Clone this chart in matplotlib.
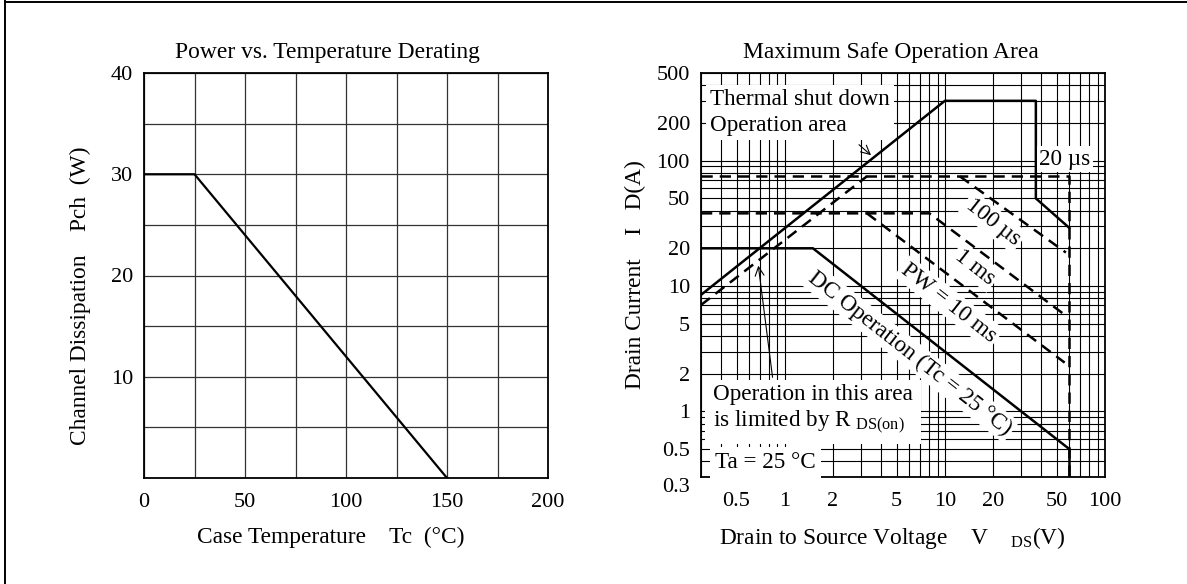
import matplotlib
matplotlib.use("Agg")

import matplotlib.pyplot as plt
from matplotlib.lines import Line2D
from matplotlib.ticker import FixedLocator, NullFormatter
from matplotlib.transforms import ScaledTranslation


plt.rcParams["font.family"] = ["Liberation Serif", "DejaVu Serif"]
plt.rcParams["mathtext.fontset"] = "custom"
plt.rcParams["mathtext.rm"] = "Liberation Serif"
plt.rcParams["mathtext.it"] = "Liberation Serif:italic"
plt.rcParams["font.size"] = 16


# Power vs. temperature derating
case_temp = [0, 25, 150]
channel_power = [30, 30, 0]

derating_xticks = [0, 50, 100, 150, 200]
derating_yticks = [0, 10, 20, 30, 40]
derating_ylabels = ["", "10", "20", "30", "40"]

# Safe operation area (V, A)
thermal_v = [0.3, 10, 37, 37, 60]
thermal_i = [8.5, 300, 300, 50, 29]

dc_v = [0.3, 1.5, 60, 60]
dc_i = [20, 20, 0.5, 0.3]

rds_v = [0.3, 3.26]
rds_i = [7.06, 75]

pw20_v = [0.3, 60, 60]
pw20_i = [75, 75, 0.3]

pw100_v = [12.4, 57]
pw100_i = [75, 18.5]

pw1ms_v = [0.3, 8.0, 57]
pw1ms_i = [38, 38, 5.8]

pw10ms_v = [3.26, 56]
pw10ms_i = [38, 2.45]

soa_xticks = [0.5, 1, 2, 5, 10, 20, 50, 100]
soa_xlabels = ["0.5", "1", "2", "5", "10", "20", "50", "100"]
soa_yticks = [0.3, 0.5, 1, 2, 5, 10, 20, 50, 100, 200, 500]
soa_ylabels = ["0.3", "0.5", "1", "2", "5", "10", "20", "50", "100", "200", "500"]


W, H = 1187, 584

LABEL_SIZE = 16.8
TITLE_SIZE = 16.9
NOTE_SIZE = 16.7

fig = plt.figure(figsize=(W / 100, H / 100), dpi=100)

# page frame (left and top edges only)
fig.add_artist(Line2D([5 / W, 5 / W], [0, 1 - 1 / H], color="black", lw=1.4))
fig.add_artist(Line2D([5 / W, 1], [1 - 1.5 / H, 1 - 1.5 / H], color="black", lw=1.4))


# ---------------- left chart ----------------

ax1 = fig.add_axes([144 / W, 1 - 478 / H, 404 / W, 405 / H])

ax1.plot(case_temp, channel_power, color="black", lw=1.6, zorder=3)

ax1.set_xlim(0, 200)
ax1.set_ylim(0, 40)

ax1.set_xticks(derating_xticks)
ax1.set_yticks(derating_yticks)
ax1.set_yticklabels(derating_ylabels)
ax1.xaxis.set_minor_locator(FixedLocator([25, 75, 125, 175]))
ax1.yaxis.set_minor_locator(FixedLocator([5, 15, 25, 35]))

ax1.grid(which="both", color="0.2", lw=0.9)
ax1.tick_params(which="both", length=0)
ax1.tick_params(axis="x", pad=11)
ax1.tick_params(axis="y", pad=8)

for spine in ax1.spines.values():
    spine.set_linewidth(1.3)

ax1.set_title(
    "Power vs. Temperature Derating",
    x=0.455, pad=11, fontsize=TITLE_SIZE
)

ax1.set_xlabel("Case Temperature    Tc  (°C)", fontsize=LABEL_SIZE)
ax1.xaxis.label.set_va("center")
ax1.xaxis.set_label_coords(0.463, -0.146)

ax1.set_ylabel("Channel Dissipation    Pch  (W)", fontsize=LABEL_SIZE)
ax1.yaxis.label.set_va("center")
ax1.yaxis.set_label_coords(-0.158, 0.449)


# ---------------- right chart ----------------

ax2 = fig.add_axes([701 / W, 1 - 477 / H, 404 / W, 404 / H])

ax2.set_xscale("log")
ax2.set_yscale("log")
ax2.set_xlim(0.3, 100)
ax2.set_ylim(0.3, 500)

solid = dict(color="black", lw=1.8, zorder=3)
dashed = dict(color="black", lw=1.8, ls=(0, (4.5, 2.8)), zorder=3)

ax2.plot(thermal_v, thermal_i, **solid)
ax2.plot(dc_v, dc_i, **solid)
ax2.plot(rds_v, rds_i, **dashed)
ax2.plot(pw20_v, pw20_i, **dashed)
ax2.plot(pw100_v, pw100_i, **dashed)
ax2.plot(pw1ms_v, pw1ms_i, **dashed)
ax2.plot(pw10ms_v, pw10ms_i, **dashed)

ax2.xaxis.set_major_locator(FixedLocator(soa_xticks))
ax2.set_xticklabels(soa_xlabels)
ax2.yaxis.set_major_locator(FixedLocator(soa_yticks))
ax2.set_yticklabels(soa_ylabels)
ax2.xaxis.set_minor_formatter(NullFormatter())
ax2.yaxis.set_minor_formatter(NullFormatter())

ax2.grid(which="both", color="black", lw=0.8)
ax2.tick_params(which="both", length=0)
ax2.tick_params(axis="x", pad=11)
ax2.tick_params(axis="y", pad=8)

# the 0.3 label sits a little below the frame in the original
low_label = ax2.get_yticklabels()[0]
low_label.set_transform(
    low_label.get_transform() + ScaledTranslation(0, -8 / 100, fig.dpi_scale_trans)
)

for spine in ax2.spines.values():
    spine.set_linewidth(1.3)

ax2.set_title(
    "Maximum Safe Operation Area",
    x=0.47, pad=11, fontsize=TITLE_SIZE
)

ax2.set_xlabel(
    "Drain to Source Voltage    V    $_{\\mathrm{DS}}$(V)",
    fontsize=LABEL_SIZE
)
ax2.xaxis.label.set_va("center")
ax2.xaxis.set_label_coords(0.473, -0.151)

ax2.set_ylabel("Drain Current    I   D(A)", fontsize=LABEL_SIZE)
ax2.yaxis.label.set_va("center")
ax2.yaxis.set_label_coords(-0.163, 0.5)


white = dict(facecolor="white", edgecolor="none", pad=2)
angle = -38.1

ax2.text(
    0.022, 0.902,
    "Thermal shut down\nOperation area",
    transform=ax2.transAxes,
    ha="left", va="center",
    fontsize=NOTE_SIZE, linespacing=1.3,
    bbox=dict(facecolor="white", edgecolor="none", pad=3),
    zorder=5
)

ax2.annotate(
    "",
    xy=(0.426, 0.792), xycoords="axes fraction",
    xytext=(0.386, 0.827), textcoords="axes fraction",
    arrowprops=dict(arrowstyle="->", lw=0.8, color="black"),
    zorder=6
)

ax2.text(
    0.901, 0.787, "20 µs",
    transform=ax2.transAxes,
    ha="center", va="center",
    fontsize=NOTE_SIZE,
    bbox=white, zorder=5
)

ax2.text(
    0.723, 0.631, "100 µs",
    transform=ax2.transAxes,
    ha="center", va="center", rotation=angle,
    rotation_mode="anchor", fontsize=NOTE_SIZE,
    bbox=white, zorder=5
)

ax2.text(
    0.678, 0.520, "1 ms",
    transform=ax2.transAxes,
    ha="center", va="center", rotation=angle,
    rotation_mode="anchor", fontsize=NOTE_SIZE,
    bbox=white, zorder=5
)

ax2.text(
    0.614, 0.431, "PW = 10 ms",
    transform=ax2.transAxes,
    ha="center", va="center", rotation=angle,
    rotation_mode="anchor", fontsize=NOTE_SIZE,
    bbox=white, zorder=5
)

ax2.text(
    0.517, 0.307, "DC Operation (Tc = 25 °C)",
    transform=ax2.transAxes,
    ha="center", va="center", rotation=angle,
    rotation_mode="anchor", fontsize=NOTE_SIZE,
    bbox=white, zorder=5
)

ax2.text(
    0.030, 0.166,
    "Operation in this area\nis limited by R $_{\\mathrm{DS(on)}}$",
    transform=ax2.transAxes,
    ha="left", va="center",
    fontsize=NOTE_SIZE, linespacing=1.2,
    bbox=dict(facecolor="white", edgecolor="none", pad=6),
    zorder=5
)

ax2.annotate(
    "",
    xy=(0.141, 0.530), xycoords="axes fraction",
    xytext=(0.178, 0.240), textcoords="axes fraction",
    arrowprops=dict(arrowstyle="->", lw=0.8, color="black"),
    zorder=6
)

ax2.text(
    0.035, 0.035, "Ta = 25 °C",
    transform=ax2.transAxes,
    ha="left", va="center",
    fontsize=NOTE_SIZE,
    bbox=dict(facecolor="white", edgecolor="none", pad=4),
    zorder=5
)


plt.savefig("out.png", dpi=100)
plt.close()
